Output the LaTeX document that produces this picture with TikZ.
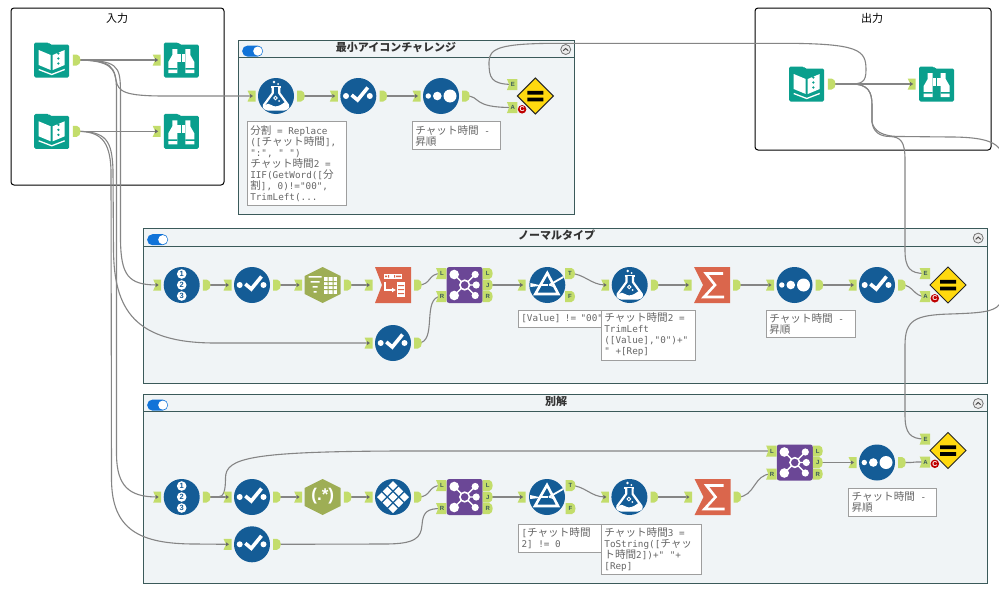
\documentclass[tikz,border=0pt]{standalone}
\usepackage{fontspec}
\usetikzlibrary{arrows.meta}
\setmainfont{Liberation Sans}
\newfontfamily\cjk[Scale=1.14]{Noto Sans CJK JP}
\newfontfamily\annomono{DejaVu Sans Mono}
\newfontfamily\titlecjk{Noto Sans CJK JP}
\newcommand{\J}[1]{{\cjk #1}}
\definecolor{tealc}{HTML}{0A9F8D}
\definecolor{bluec}{HTML}{145C96}
\definecolor{redc}{HTML}{DA664C}
\definecolor{olivec}{HTML}{9EAE55}
\definecolor{purplec}{HTML}{6B4796}
\definecolor{yellowc}{HTML}{FFD90F}
\definecolor{tabc}{HTML}{C3DD6B}
\definecolor{contfill}{HTML}{F0F4F6}
\definecolor{contline}{HTML}{3B5A5A}
\definecolor{togglec}{HTML}{1173D8}
\definecolor{wirec}{HTML}{858585}
\definecolor{annoc}{HTML}{666666}
\pgfdeclarelayer{boxes}
\pgfdeclarelayer{wires}
\pgfsetlayers{boxes,wires,main}
\tikzset{
  wire/.style={draw=wirec,line width=1.1pt},
  toolbody/.style={circle,minimum size=36pt,inner sep=0pt},
  tabnode/.style={inner sep=0pt,minimum width=6pt,minimum height=10pt,font=\fontsize{6}{6}\selectfont\bfseries,text=contline},
  annobox/.style={draw=black!38,fill=white,line width=1pt,inner sep=2.5pt,align=left,text=annoc,font=\annomono\fontsize{9.3}{11}\selectfont},
  grouptitle/.style={font=\titlecjk\fontsize{11}{11}\selectfont,text=black},
  conttitle/.style={font=\titlecjk\bfseries\fontsize{11}{11}\selectfont,text=black!80},
  pics/bookicon/.style={code={
    \fill[tealc,rounded corners=1.5pt] (-17.5,-17.5) -- (-3,-17.5) -- (-2,-15.5) -- (17.5,-15.5) -- (17.5,17.5) -- (-17.5,17.5) -- cycle;
    \fill[white] (-13,-10) -- (-1,-5) -- (-1,10) -- (-13,5) -- cycle;
    \fill[white] (1,-5) -- (13,-10) -- (13,5) -- (1,10) -- cycle;
    \fill[tealc] (6.7,-6.5) circle (1.3) (6.7,-1.5) circle (1.3) (6.7,3.5) circle (1.3);
    \draw[white,line width=1.3pt,line join=round] (-13,9.5) -- (0,14.5) -- (13,9.5);
  }},
  pics/browseicon/.style={code={
    \fill[tealc,rounded corners=1.5pt] (-17.5,-17.5) -- (-3,-17.5) -- (-2,-15.5) -- (17.5,-15.5) -- (17.5,17.5) -- (-17.5,17.5) -- cycle;
    \fill[white] (-9,-11) -- (-4,-11) -- (-4,13) -- (-13,13) -- (-13,2) -- (-9,-5) -- cycle;
    \fill[white] (9,-11) -- (4,-11) -- (4,13) -- (13,13) -- (13,2) -- (9,-5) -- cycle;
    \fill[white] (-4,-6) rectangle (4,2);
    \fill[tealc] (-0.5,-6) rectangle (0.5,2);
    \fill[tealc] (-14,8) rectangle (-4,9.5) (4,8) rectangle (14,9.5);
  }},
  pics/selecticon/.style={code={
    \fill[bluec] (0,0) circle (18);
    \fill[white] (-12.3,0) circle (3) (11.5,0) circle (3);
    \draw[white,line width=3.6pt] (-6.7,-1) -- (-0.7,4) -- (9.5,-8.5);
  }},
  pics/sorticon/.style={code={
    \fill[bluec] (0,0) circle (18);
    \fill[white] (-12.7,0) circle (2.7) (-3.7,0) circle (4.3) (9,0) circle (6.5);
  }},
  pics/recidicon/.style={code={
    \fill[bluec] (0,0) circle (18);
    \foreach \yy/\dd in {-11/1,0/2,11/3}{
      \fill[white] (0,\yy) circle (4.8);
      \node[inner sep=0pt,text=bluec,font=\fontsize{7.5}{7.5}\selectfont\bfseries] at (0,\yy) {\dd};
    }
  }},
  pics/formulaicon/.style={code={
    \fill[bluec] (0,0) circle (18);
    \fill[white] (-2,-14) circle (1.4) (2,-12) circle (1);
    \draw[white,line width=1.6pt] (-5,-9) -- (5,-9);
    \draw[white,line width=2.2pt,line join=round,fill=bluec] (-3.2,-9) -- (-3.2,-3) -- (-12,9) .. controls (-13,12) and (-10,13.5) .. (-8,13.5) -- (8,13.5) .. controls (10,13.5) and (13,12) .. (12,9) -- (3.2,-3) -- (3.2,-9);
    \fill[white] (-11,9) .. controls (-6,5) and (-5,12) .. (2,10) .. controls (6,9) and (8,6) .. (9.5,6) -- (11.5,10) .. controls (12,12) and (10,13) .. (8,13) -- (-8,13) .. controls (-10,13) and (-12,12) .. (-11,9) -- cycle;
    \draw[white,line width=0.9pt] (-0.5,2) circle (1.8);
    \fill[white] (3,5) circle (1);
  }},
  pics/filtericon/.style={code={
    \fill[bluec] (0,0) circle (18);
    \draw[white,line width=2.6pt,line join=miter] (0,-12) -- (-12,9) -- (11,9) -- cycle;
    \fill[white] (-17,-2) -- (-8,0) -- (-8,1) -- (-17,2) -- cycle;
    \draw[white,line width=1.2pt] (-7,0) -- (1,0);
    \draw[white,line width=1.8pt] (2,0) -- (16,-8);
    \draw[white,line width=1.2pt] (2,0) -- (8,2);
  }},
  pics/sumicon/.style={code={
    \fill[redc] (-18,-18) -- (18,-18) -- (18,18) -- (-18,18) -- (-9,0) -- cycle;
    \draw[white,line width=2.6pt,line join=miter] (11,-11.5) -- (-6,-11.5) -- (3,0) -- (-8,12) -- (12,12);
  }},
  pics/transposeicon/.style={code={
    \fill[redc] (-18,-18) -- (18,-18) -- (18,18) -- (-18,18) -- (-11,0) -- cycle;
    \fill[white] (-9,-11) rectangle (9,-6.5);
    \fill[redc] (-5,-10) rectangle (-4,-7.5) (1,-10) rectangle (2,-7.5) (-8,-9.5) rectangle (-6,-8) (3,-9.5) rectangle (8,-8);
    \draw[white,line width=1.6pt,-{Latex[length=4pt,width=5pt]}] (-8,-3) -- (-8,5) -- (3,5);
    \fill[white] (4,-3) rectangle (12,12);
    \fill[redc] (5,0) rectangle (11,1) (5,4) rectangle (11,5) (5,8) rectangle (11,9);
  }},
  pics/crosstabicon/.style={code={
    \fill[olivec] (0,-18) -- (18,-9) -- (18,9) -- (0,18) -- (-18,9) -- (-18,-9) -- cycle;
    \fill[white] (-14,-9) rectangle (-1,-7.5) (-12,-4) rectangle (-3,-2.5) (-10,1) rectangle (-5,2.5) (-9,6) rectangle (-6,7.5);
    \fill[white] (1,-8) rectangle (14,9);
    \fill[olivec] (1,-4) rectangle (14,-3) (1,0) rectangle (14,1) (1,4) rectangle (14,5) (5,-8) rectangle (6,9) (10,-8) rectangle (11,9);
  }},
  pics/regexicon/.style={code={
    \fill[olivec] (0,-18) -- (18,-9) -- (18,9) -- (0,18) -- (-18,9) -- (-18,-9) -- cycle;
    \node[inner sep=0pt,text=white,font=\fontsize{17}{17}\selectfont\bfseries] at (0,-0.5) {(.*)};
  }},
  pics/gridicon/.style={code={
    \fill[bluec] (0,0) circle (18);
    \foreach \ii in {-1,0,1}{\foreach \jj in {-1,0,1}{
      \fill[white,shift={({(\ii+\jj)*5.7},{(\jj-\ii)*5.7})}] (0,-4.6) -- (4.6,0) -- (0,4.6) -- (-4.6,0) -- cycle;
    }}
  }},
  pics/joinicon/.style={code={
    \fill[purplec,rounded corners=2.5pt] (-18,-18) rectangle (18,18);
    \draw[white,line width=1.4pt] (-10.5,-10.5) -- (10.5,10.5) (-10.5,10.5) -- (10.5,-10.5) (0,0) -- (12,0);
    \fill[white] (-10.5,-10.5) circle (4.8) (-10.5,10.5) circle (4.8) (10.5,-10.5) circle (3.6) (11.5,0) circle (3.6) (10.5,10.5) circle (3.6);
    \draw[white,line width=1.6pt,fill=purplec] (0,0) circle (4.8);
  }},
  pics/testicon/.style={code={
    \fill[yellowc,draw=black!85,line width=1pt,line join=miter] (0,-18) -- (18,0) -- (0,18) -- (-18,0) -- cycle;
    \fill[black] (-8,-5.2) rectangle (8,-1.4) (-8,1.6) rectangle (8,5.4);
  }},
}
% in-tab and out-tab, each a named node over its drawn outline
\newcommand{\inTab}[4]{%
  \begin{scope}[shift={(#2,#3)}]
    \ifx&#4&%
      \fill[tabc] (-4,-5.5) -- (4,-5.5) -- (4,5.5) -- (-4,5.5) -- (-1.5,0) -- cycle;
      \fill[wirec!80!black] (-1.5,-2) -- (1.5,0) -- (-1.5,2) -- cycle;
    \else
      \fill[tabc] (-5.2,-5.5) -- (5.2,-5.5) -- (5.2,5.5) -- (-5.2,5.5) -- (-3,0) -- cycle;
    \fi
  \end{scope}
  \node[tabnode] (#1) at (#2,#3) {\kern1.5pt #4};}
\newcommand{\outTab}[4]{%
  \begin{scope}[shift={(#2,#3)}]
    \ifx&#4&%
      \fill[tabc] (-3.8,-5.5) -- (0,-5.5) .. controls (2.5,-5.5) and (3.8,-2.5) .. (3.8,0) .. controls (3.8,2.5) and (2.5,5.5) .. (0,5.5) -- (-3.8,5.5) -- cycle;
    \else
      \fill[tabc] (-5,-5.5) -- (1.5,-5.5) .. controls (3.7,-5.5) and (5,-2.5) .. (5,0) .. controls (5,2.5) and (3.7,5.5) .. (1.5,5.5) -- (-5,5.5) -- cycle;
    \fi
  \end{scope}
  \node[tabnode] (#1) at (#2,#3) {#4};}
% tool body without tabs
\newcommand{\toolOnly}[4]{\node[toolbody] (#1) at (#2,#3) {}; \pic at (#2,#3) {#4};}
% tool with one plain input and one plain output
\newcommand{\tool}[4]{\toolOnly{#1}{#2}{#3}{#4}%
  \inTab{#1i}{#2-24.5}{#3}{}\outTab{#1o}{#2+25}{#3}{}}
% test tool
\newcommand{\testTool}[3]{\toolOnly{#1}{#2}{#3}{testicon}%
  \inTab{#1e}{#2-23.2}{#3-11.5}{E}\inTab{#1a}{#2-23.2}{#3+11.5}{A}%
  \node[circle,fill=red!75!black,text=white,inner sep=0pt,minimum size=8.5pt,font=\fontsize{7}{7}\selectfont\bfseries] (#1c) at (#2-13.2,#3+13.3) {C};}
% join tool
\newcommand{\joinTool}[3]{\toolOnly{#1}{#2}{#3}{joinicon}%
  \inTab{#1l}{#2-23.5}{#3-11.5}{L}\inTab{#1r}{#2-23.5}{#3+11.5}{R}%
  \outTab{#1ol}{#2+23}{#3-11.5}{L}\outTab{#1oj}{#2+23}{#3}{J}\outTab{#1or}{#2+23}{#3+11.5}{R}}
% annotation box: name, x1, y1, x2, y2, text
\newcommand{\anno}[6]{%
  \pgfmathsetmacro\annw{#4-#2}\pgfmathsetmacro\annh{#5-#3}%
  \node[annobox,minimum width=\annw pt,minimum height=\annh pt,text width={\annw pt-6pt}] (#1) at ({(#2+#4)/2},{(#3+#5)/2}) {\spaceskip=0pt \xspaceskip=0pt #6};}
% container: name, x1, y1, x2, y2, header y, title x, title, spare
\newcommand{\container}[9]{%
  \begin{pgfonlayer}{boxes}
    \draw[contline,line width=1pt,fill=contfill] (#2,#3) rectangle (#4,#5);
    \draw[contline,line width=1pt] (#2,#6) -- (#4,#6);
    \fill[togglec,rounded corners=5.3pt] (#2+4.2,#3+5.6) rectangle (#2+25,#3+16.6);
    \fill[white] (#2+19.8,#3+11.1) circle (4.6);
    \draw[black!55,line width=0.8pt,fill=black!8] (#4-8.8,#3+9.5) circle (5);
    \draw[black!70,line width=1pt] (#4-11.3,#3+10.7) -- (#4-8.8,#3+8.5) -- (#4-6.3,#3+10.7);
    \node[conttitle] (#1t) at (#7,#3+7) {#8#9};
  \end{pgfonlayer}}
\newcommand{\wireS}[3][24]{\draw[wire] (#2.center) .. controls +(#1,0) and +(-#1,0) .. (#3.center);}
\begin{document}
\begin{tikzpicture}[x=1pt,y=-1pt]
\useasboundingbox (0,0) rectangle (999,589);

% group boxes
\begin{pgfonlayer}{boxes}
  \fill[white] (0,0) rectangle (999,589);
  \draw[black,line width=1pt,rounded corners=3pt,fill=white] (11,8) rectangle (224,185);
  \node[grouptitle] (titleIn) at (117,18) {入力};
  \draw[black,line width=1pt,rounded corners=3pt,fill=white] (755,8) rectangle (991,150);
  \node[grouptitle] (titleOut) at (872,18) {出力};
\end{pgfonlayer}
\container{c1}{238}{40}{574.5}{214}{57}{396}{最小アイコンチャレンジ}{}
\container{c2}{143}{228.6}{987}{383}{246}{556.7}{ノーマルタイプ}{}
\container{c3}{143}{394}{987}{583}{411}{556}{別解}{}

% input and output groups
\toolOnly{inA}{51.7}{60}{bookicon}\outTab{inAo}{76.7}{60}{}
\toolOnly{brA}{181.3}{60}{browseicon}\inTab{brAi}{156.7}{60}{}
\toolOnly{inB}{51.7}{131.3}{bookicon}\outTab{inBo}{76.7}{131.3}{}
\toolOnly{brB}{181.3}{131.3}{browseicon}\inTab{brBi}{156.7}{131.3}{}
\toolOnly{outA}{806.7}{84}{bookicon}\outTab{outAo}{831.7}{84}{}
\toolOnly{brC}{936.7}{84}{browseicon}\inTab{brCi}{911.7}{84}{}

% row 1
\tool{fa}{276}{96}{formulaicon}
\tool{sa}{358.3}{96}{selecticon}
\tool{oa}{441}{96}{sorticon}
\testTool{ta}{535.3}{96}

% row 2
\tool{rb}{181.7}{285}{recidicon}
\tool{sb}{252}{285}{selecticon}
\tool{xb}{322.7}{285}{crosstabicon}
\tool{pb}{393}{285}{transposeicon}
\tool{qb}{393}{343}{selecticon}
\joinTool{jb}{464.7}{285}
\toolOnly{lb}{547.3}{285}{filtericon}\inTab{lbi}{521.7}{285}{}\outTab{lbt}{570}{273.5}{T}\outTab{lbf}{570}{296.5}{F}
\tool{fb}{629.7}{285}{formulaicon}
\tool{mb}{712}{285}{sumicon}
\tool{ob}{794.5}{285}{sorticon}
\tool{zb}{877}{285}{selecticon}
\testTool{tb}{948}{285}

% row 3
\tool{rc}{181.7}{497}{recidicon}
\tool{sc}{252}{497}{selecticon}
\tool{xc}{322.7}{497}{regexicon}
\tool{pc}{393}{497}{gridicon}
\tool{qc}{252}{544.3}{selecticon}
\joinTool{jc}{464.7}{497}
\toolOnly{lc}{547}{497}{filtericon}\inTab{lci}{521.7}{497}{}\outTab{lct}{570.5}{485.5}{T}\outTab{lcf}{570.5}{508.5}{F}
\tool{fc}{629.4}{497}{formulaicon}
\tool{mc}{712.5}{497}{sumicon}
\joinTool{jd}{794.8}{462.5}
\tool{oc}{877}{462.5}{sorticon}
\testTool{tc}{948}{450.5}

% annotations
\anno{n1}{247.3}{121.7}{346.6}{205}{\J{分割} = Replace\\([\J{チャット時間}],\\":", " ")\\\J{チャット時間}2 =\\IIF(GetWord([\J{分}\\\J{割}], 0)!="00",\\TrimLeft(...}
\anno{n2}{412.3}{121.7}{500.7}{149.3}{\J{チャット時間} -\\\J{昇順}}
\anno{n3}{518.3}{310}{606}{327}{[Value] != "00"}
\anno{n4}{601.3}{310}{695.7}{360}{\J{チャット時間}2 =\\TrimLeft\\([Value],"0")+"\\" +[Rep]}
\anno{n5}{766.3}{310}{855}{337.7}{\J{チャット時間} -\\\J{昇順}}
\anno{n6}{518.5}{524}{606}{552}{[\J{チャット時間}\\2] != 0}
\anno{n7}{601.4}{524}{701}{574.3}{\J{チャット時間}3 =\\ToString([\J{チャッ}\\\J{ト時間}2])+" "+\\{}[Rep]}
\anno{n8}{848.5}{488.4}{936.7}{516.4}{\J{チャット時間} -\\\J{昇順}}

% connectors
\begin{pgfonlayer}{wires}
\begin{scope}
\clip (0,0) rectangle (999,589);
\draw[wire] (inAo.center) -- (brAi.center);
\draw[wire] (inBo.center) -- (brBi.center);
\draw[wire] (outAo.center) -- (brCi.center);
% input A to row 1 formula
\draw[wire] (inAo.center) .. controls (112,60) and (114,70) .. (116,80) .. controls (118,92) and (125,96) .. (165,96) -- (fai.center);
% input A to row 2 and row 3
\draw[wire] (inAo.center) .. controls (118,60) and (120,66) .. (120.5,90) -- (120.5,240) .. controls (121,275) and (128,285) .. (rbi.center);
\draw[wire] (inAo.center) .. controls (112,60) and (116,66) .. (116.5,90) -- (116.5,455) .. controls (117,485) and (128,497) .. (rci.center);
% input B to row 2 select and row 3 select
\draw[wire] (inBo.center) .. controls (106,131.3) and (112,140) .. (113,170) -- (113.5,250) .. controls (114,310) and (135,343) .. (215,343) -- (qbi.center);
\draw[wire] (inBo.center) .. controls (100,131.3) and (110,140) .. (111,170) -- (111.5,480) .. controls (112,530) and (140,544) .. (195,544) -- (qci.center);
% output to test tools
\draw[wire] (outAo.center) -- (850,84) .. controls (862,84) and (866,82) .. (866,70) .. controls (866,50) and (860,43.3) .. (780,43.3) -- (560,43.3) .. controls (500,43.3) and (489,48) .. (489,62) .. controls (489,78) and (491,84) .. (tae.center);
\draw[wire] (outAo.center) -- (852,84) .. controls (868,84) and (872,92) .. (872,105) -- (872,122) .. controls (873,132) and (880,136.5) .. (890,136.5) .. controls (901,137) and (905,142) .. (905,160) -- (905,250) .. controls (905,268) and (910,273.5) .. (tbe.center);
\draw[wire] (outAo.center) -- (852,84) .. controls (868,84) and (872,92) .. (872,105) -- (872,122) .. controls (874,131) and (882,136.5) .. (900,136.5) -- (950,137) .. controls (980,137) and (993,141) .. (999,148) .. controls (1014,165) and (1014,290) .. (999,305) .. controls (993,312) and (980,313) .. (950,314) .. controls (915,315) and (905,320) .. (905,345) -- (905,415) .. controls (905,433) and (910,439) .. (tce.center);
% row 1
\wireS{fao}{sai}\wireS{sao}{oai}
\draw[wire] (oao.center) .. controls (482,96) and (470,107.5) .. (taa.center);
% row 2
\wireS{rbo}{sbi}\wireS{sbo}{xbi}\wireS{xbo}{pbi}
\wireS[14]{pbo}{jbl}
\wireS[20]{qbo}{jbr}
\wireS{jboj}{lbi}
\wireS[14]{lbt}{fbi}
\wireS{fbo}{mbi}\wireS{mbo}{obi}\wireS{obo}{zbi}
\wireS[11]{zbo}{tba}
% row 3
\wireS[8]{rco}{sci}\wireS{sco}{xci}\wireS{xco}{pci}
\wireS[14]{pco}{jcl}
\draw[wire] (rco.center) -- (218,497) .. controls (224,497) and (225.5,490) .. (225.5,478) .. controls (225.5,458) and (250,451.5) .. (400,451) -- (jdl.center);
\draw[wire] (qco.center) -- (385,544) .. controls (415,544) and (421,538) .. (422,525) .. controls (423,512) and (427,508.5) .. (jcr.center);
\wireS{jcoj}{lci}
\wireS[14]{lct}{fci}
\wireS{fco}{mci}
\wireS[18]{mco}{jdr}
\wireS{jdoj}{oci}
\wireS{oco}{tca}
\end{scope}
\end{pgfonlayer}
\end{tikzpicture}
\end{document}
